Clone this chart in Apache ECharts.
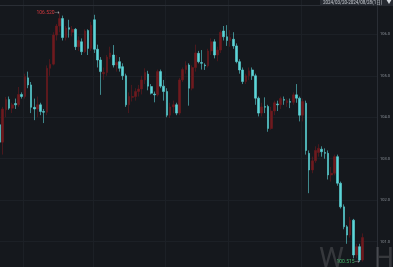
<!DOCTYPE html>
<html>
<head>
<meta charset="utf-8">
<script src="https://cdn.jsdelivr.net/npm/echarts@6/dist/echarts.min.js"></script>
<style>
html,body{margin:0;padding:0;background:#15181d;overflow:hidden;width:393px;height:267px;position:relative;}
#c{position:absolute;left:-10px;top:-20px;width:413px;height:320px;}
</style>
</head>
<body>
<div id="c"></div>
<script>
// Trading days 2024/03/20 - 2024/08/28
const months = [
  ['2024/03', [20,21,22,25,26,27,28,29]],
  ['2024/04', [1,2,3,4,5,8,9,10,11,12,15,16,17,18,19,22,23,24,25,26,29,30]],
  ['2024/05', [1,2,3,6,7,8,9,10,13,14,15,16,17,20,21,22,23,24,27,28,29,30,31]],
  ['2024/06', [3,4,5,6,7,10,11,12,13,14,17,18,19,20,21,24,25,26,27,28]],
  ['2024/07', [1,2,3,4,5,8,9,10,11,12,15,16,17,18,19,22,23,24,25,26,29,30,31]],
  ['2024/08', [1,2,5,6,7,8,9,12,13,14,15,16,19,20,21,22,23,26,27,28]]
];
const rangeLabel = '2024/03/20-2024/08/28(1日)';
const padSlots = ['', '', '', ''];

const opens = [
103.82,103.40,104.18,104.43,104.22,104.33,104.30,104.55,
104.50,104.95,104.78,104.24,104.20,104.30,104.14,104.12,105.18,105.28,105.98,106.20,106.38,105.92,106.16,106.05,106.12,105.70,105.82,105.58,106.09,105.66,
106.35,105.64,105.38,105.05,105.08,105.45,105.50,105.26,105.34,105.22,105.00,104.30,104.48,104.50,104.62,104.68,104.90,105.04,104.74,104.56,104.54,105.10,104.75,
104.62,104.05,104.25,104.30,104.10,104.90,105.15,105.26,104.70,105.20,105.54,105.32,105.26,105.24,105.60,105.82,105.50,105.62,106.08,105.94,
105.85,105.88,105.72,105.34,105.14,104.86,105.00,105.14,105.00,104.46,104.10,104.26,104.26,103.73,104.15,104.32,104.30,104.43,104.35,104.38,104.36,104.54,104.46,
104.05,104.34,103.13,102.73,102.95,103.15,103.23,103.15,103.13,102.61,102.65,103.05,102.41,101.84,101.36,101.16,101.52,100.68,100.88,100.56];
const closes = [
103.40,104.20,104.43,104.22,104.30,104.30,104.55,104.50,
104.98,104.78,104.24,104.20,104.30,104.14,104.12,105.18,105.28,105.98,106.20,106.38,105.92,106.15,106.12,106.12,105.70,105.85,105.58,106.08,105.66,106.22,
105.64,105.38,105.10,105.08,105.45,105.55,105.26,105.32,105.18,105.00,104.30,104.50,104.50,104.62,104.68,104.90,105.08,104.75,104.58,104.54,105.10,104.75,104.62,
104.05,104.25,104.30,104.10,104.90,105.15,105.25,104.70,105.20,105.55,105.34,105.30,105.24,105.60,105.82,105.50,105.62,106.05,105.94,105.85,
105.92,105.72,105.34,105.14,104.86,105.00,105.12,105.00,104.46,104.10,104.25,104.24,103.73,104.15,104.35,104.30,104.45,104.41,104.40,104.36,104.54,104.46,104.05,
104.38,103.20,102.73,102.95,103.20,103.25,103.17,103.13,102.61,102.65,103.05,102.41,101.84,101.36,101.16,101.52,100.68,100.88,100.56,101.10];
const lows = [
103.35,103.10,104.00,104.18,104.10,104.20,104.25,104.45,
104.45,104.70,104.10,103.93,104.00,104.05,103.86,104.05,105.00,105.25,105.85,106.05,105.85,105.85,105.92,105.95,105.62,105.60,105.50,105.55,105.50,105.60,
105.55,105.20,104.54,104.90,105.00,105.40,105.20,105.10,105.10,104.90,104.25,104.10,104.38,104.40,104.50,104.55,104.80,104.65,104.55,104.36,104.50,104.70,104.40,
104.00,103.98,104.10,104.05,104.05,104.85,105.05,104.28,104.65,105.10,105.30,105.15,105.14,105.20,105.50,105.42,105.35,105.55,105.85,105.72,
105.70,105.65,105.30,105.05,104.80,104.80,104.90,104.90,104.30,104.02,104.02,104.10,103.65,103.70,104.05,104.15,104.20,104.30,104.25,104.22,104.30,104.35,103.90,
103.90,103.10,102.17,102.65,102.90,103.05,103.05,103.00,102.50,102.45,102.60,102.35,101.80,101.30,100.95,101.10,100.60,100.60,100.515,100.52];
const highs = [
103.90,104.25,104.49,104.50,104.35,104.45,104.73,104.60,
105.05,105.10,104.85,104.45,104.50,104.35,104.20,105.25,105.40,106.05,106.25,106.52,106.45,106.20,106.35,106.20,106.15,105.95,105.90,106.12,106.12,106.30,
106.47,105.75,105.45,105.20,105.50,105.70,105.74,105.50,105.45,105.30,105.05,104.60,104.78,104.70,104.78,105.00,105.18,105.12,104.80,104.62,105.15,105.15,104.90,
104.70,104.35,104.40,104.35,104.95,105.20,105.35,105.30,105.25,105.75,105.60,105.62,105.30,105.65,105.90,105.88,105.70,106.10,106.20,106.22,
106.10,106.05,105.78,105.40,105.20,105.05,105.20,105.20,105.05,104.50,104.35,104.48,104.30,104.25,104.40,104.40,104.50,104.50,104.45,104.45,104.60,104.80,104.50,
104.45,104.40,103.20,103.05,103.30,103.35,103.30,103.25,103.20,102.80,103.10,103.10,102.45,101.90,101.40,101.60,101.55,100.95,100.95,101.20];

const yMin = 100, yMax = 107, yStep = 1;

// build
const dates = [];
const monthStart = new Set();
months.forEach(([m, days]) => {
  days.forEach((d, j) => {
    if (j === 0) monthStart.add(dates.length);
    dates.push(m + '/' + String(d).padStart(2, '0'));
  });
});
const categories = dates.concat(padSlots);
const kdata = opens.map((o, i) => [o, closes[i], lows[i], highs[i]]);

const UP = '#6f1a1f', DOWN = '#5cd5d8';
const FONT = 'Roboto, "Noto Sans CJK SC", sans-serif';
// container is offset by (-10, -20) relative to the page
const OX = 10, OY = 20;

const chart = echarts.init(document.getElementById('c'), null, {renderer: 'canvas'});
chart.setOption({
  backgroundColor: '#15181d',
  animation: false,
  grid: {left: 8, right: 26, top: 12.8, height: 290.4, containLabel: false},
  xAxis: {
    type: 'category',
    data: categories,
    boundaryGap: true,
    axisLine: {show: false},
    axisTick: {show: false},
    axisLabel: {show: false},
    splitLine: {
      show: true,
      interval: (idx) => monthStart.has(idx) && idx > 0,
      lineStyle: {color: '#1c2026', width: 1}
    }
  },
  yAxis: {
    type: 'value',
    position: 'right',
    min: yMin, max: yMax, interval: yStep,
    axisLine: {show: true, lineStyle: {color: '#2a2e35'}},
    axisTick: {show: false},
    axisLabel: {
      show: true, inside: false, margin: 3,
      fontSize: 4, color: '#8d939b', fontFamily: FONT,
      formatter: v => v.toFixed(1)
    },
    splitLine: {show: true, lineStyle: {color: '#1c2026', width: 1}}
  },
  graphic: [
    {type: 'text', z: 1, left: 319 + OX, top: 246 + OY,
     style: {text: 'W', font: '28px ' + FONT, fill: 'rgba(255,255,255,0.14)'}},
    {type: 'text', z: 1, left: 374 + OX, top: 246 + OY,
     style: {text: 'H', font: '28px ' + FONT, fill: 'rgba(255,255,255,0.14)'}},
    {type: 'line', z: 50, shape: {x1: 0, y1: 5.5 + OY, x2: 413, y2: 5.5 + OY},
     style: {stroke: '#2a2e35', lineWidth: 1}},
    {type: 'rect', z: 51, shape: {x: 320 + OX, y: -3 + OY, width: 80, height: 9, r: 1},
     style: {fill: '#262a31'}},
    {type: 'text', z: 52, left: 323 + OX, top: 0.2 + OY,
     style: {text: rangeLabel, font: '4.5px ' + FONT, fill: '#c9cdd3'}},
    {type: 'text', z: 52, left: 386.5 + OX, top: -0.3 + OY,
     style: {text: '▼', font: '5px ' + FONT, fill: '#d5d9de'}}
  ],
  series: [{
    type: 'candlestick',
    data: kdata,
    barWidth: '68%',
    z: 3,
    itemStyle: {
      color: UP, color0: DOWN,
      borderColor: UP, borderColor0: DOWN,
      borderWidth: 0.6
    },
    markPoint: {
      symbol: 'circle', symbolSize: 0.01,
      animation: false,
      data: [
        {type: 'max', valueDim: 'highest',
         label: {position: 'left', distance: 0,
           formatter: p => '{a|' + p.value.toFixed(3) + '}{b|→}',
           rich: {a: {color: '#d5393f', fontSize: 5, fontFamily: FONT},
                  b: {color: '#d0d4d9', fontSize: 5, fontFamily: FONT}}}},
        {type: 'min', valueDim: 'lowest',
         label: {position: 'left', distance: 0,
           formatter: p => '{a|' + p.value.toFixed(3) + '}{b|→}',
           rich: {a: {color: '#45b36b', fontSize: 5, fontFamily: FONT},
                  b: {color: '#d0d4d9', fontSize: 5, fontFamily: FONT}}}}
      ]
    }
  }]
});
</script>
</body>
</html>
